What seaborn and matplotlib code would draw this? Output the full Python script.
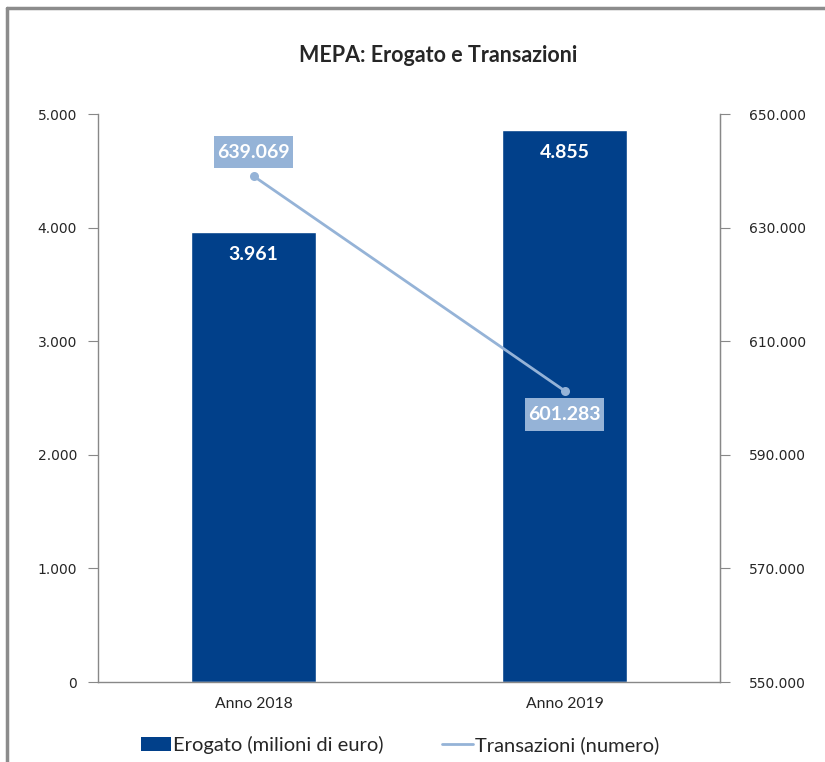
import pandas as pd
import matplotlib
matplotlib.use("Agg")
import matplotlib.pyplot as plt
from matplotlib.lines import Line2D
from matplotlib.patches import Patch
from matplotlib.path import Path
import seaborn as sns

# --- Daten ---
anni = ["Anno 2018", "Anno 2019"]
erogato = [3961, 4855]             # milioni di euro
transazioni = [639069, 601283]     # numero

BAR_COLOR = "#01408A"
LINE_COLOR = "#95B3D7"
AXIS_COLOR = "#888888"


def fmt_it(v):
    return f"{v:,.0f}".replace(",", ".")


def label_box(x0, y0, width, height, mutation_size):
    # Box stile Excel: poco margine ai lati, di più sopra e sotto
    px = 0.18 * mutation_size
    py = 0.39 * mutation_size
    x0, y0 = x0 - px, y0 - py
    x1, y1 = x0 + width + 2 * px, y0 + height + 2 * py
    return Path([(x0, y0), (x1, y0), (x1, y1), (x0, y1), (x0, y0)], closed=True)


sns.set_style("white")
plt.rcParams["font.family"] = ["DejaVu Sans"]

df = pd.DataFrame({"Anno": anni, "Erogato": erogato, "Transazioni": transazioni})

fig = plt.figure(figsize=(8.25, 7.62), dpi=100)
ax = fig.add_axes([98 / 825, 80 / 762, 622 / 825, 568 / 762])

sns.barplot(data=df, x="Anno", y="Erogato", color=BAR_COLOR, width=0.4,
            saturation=1, ax=ax)
ax.set_ylim(0, 5000)
ax.set_xlim(-0.5, 1.5)
ax.set_yticks(range(0, 5001, 1000))
ax.set_yticklabels([fmt_it(v) for v in range(0, 5001, 1000)], fontsize=10)
ax.set_xlabel("")
ax.set_ylabel("")
ax.set_xticks([0.5], minor=True)
ax.set_xticks(range(len(anni)))
ax.set_xticklabels(anni, family="Lato", fontsize=11.3)
ax.tick_params(axis="x", which="major", length=0, pad=11)
ax.tick_params(axis="x", which="minor", length=7, color=AXIS_COLOR, direction="out")
ax.tick_params(axis="y", length=7, color=AXIS_COLOR, direction="out", pad=8)

ax.spines["top"].set_visible(False)
for spine in ["left", "bottom", "right"]:
    ax.spines[spine].set_color(AXIS_COLOR)
    ax.spines[spine].set_linewidth(1)

# etichette barre
for i, v in enumerate(erogato):
    ax.text(i, v - 120, fmt_it(v), ha="center", va="top", color="white",
            fontsize=14, fontweight="bold", family="Lato")

# asse secondario
ax2 = ax.twinx()
sns.lineplot(data=df, x="Anno", y="Transazioni", color=LINE_COLOR, linewidth=2,
             marker="o", markersize=6.5, markeredgewidth=0, sort=False, ax=ax2)
ax2.set_ylim(550000, 650000)
ax2.set_yticks(range(550000, 650001, 20000))
ax2.set_yticklabels([fmt_it(v) for v in range(550000, 650001, 20000)], fontsize=10)
ax2.set_ylabel("")
ax2.set_xlabel("")
ax2.tick_params(axis="y", length=7, color=AXIS_COLOR, direction="out", pad=14)
for spine in ["top", "left", "bottom"]:
    ax2.spines[spine].set_visible(False)
ax2.spines["right"].set_color(AXIS_COLOR)

box = dict(boxstyle=label_box, facecolor=LINE_COLOR, edgecolor="none")
offsets = [11, -11]
for i, v in enumerate(transazioni):
    ax2.annotate(fmt_it(v), (i, v), xytext=(0, offsets[i]),
                 textcoords="offset points", ha="center",
                 va="bottom" if offsets[i] > 0 else "top", color="white",
                 fontsize=14, fontweight="bold", family="Lato", bbox=box)

# titolo
fig.text(438 / 825, 1 - 55 / 762, "MEPA: Erogato e Transazioni", ha="center",
         va="center", fontsize=15.5, fontweight="bold", family="Lato")

# legenda
handles = [Patch(facecolor=BAR_COLOR, edgecolor="none"),
           Line2D([0], [0], color=LINE_COLOR, linewidth=2)]
fig.legend(handles, ["Erogato (milioni di euro)", "Transazioni (numero)"],
           loc="center", bbox_to_anchor=(400 / 825, 1 - 745 / 762), ncol=2,
           frameon=False, prop={"family": "Lato", "size": 14.5},
           handlelength=1.5, handleheight=0.7, handletextpad=0.1,
           columnspacing=2.9)

# cornice
fig.add_artist(Line2D([7 / 825, 7 / 825], [0, 1 - 8 / 762], color="#8c8c8c",
                      linewidth=2.5, transform=fig.transFigure))
fig.add_artist(Line2D([7 / 825, 1], [1 - 8 / 762, 1 - 8 / 762], color="#8c8c8c",
                      linewidth=2.5, transform=fig.transFigure))

fig.savefig("out.png", dpi=100, facecolor="white")
